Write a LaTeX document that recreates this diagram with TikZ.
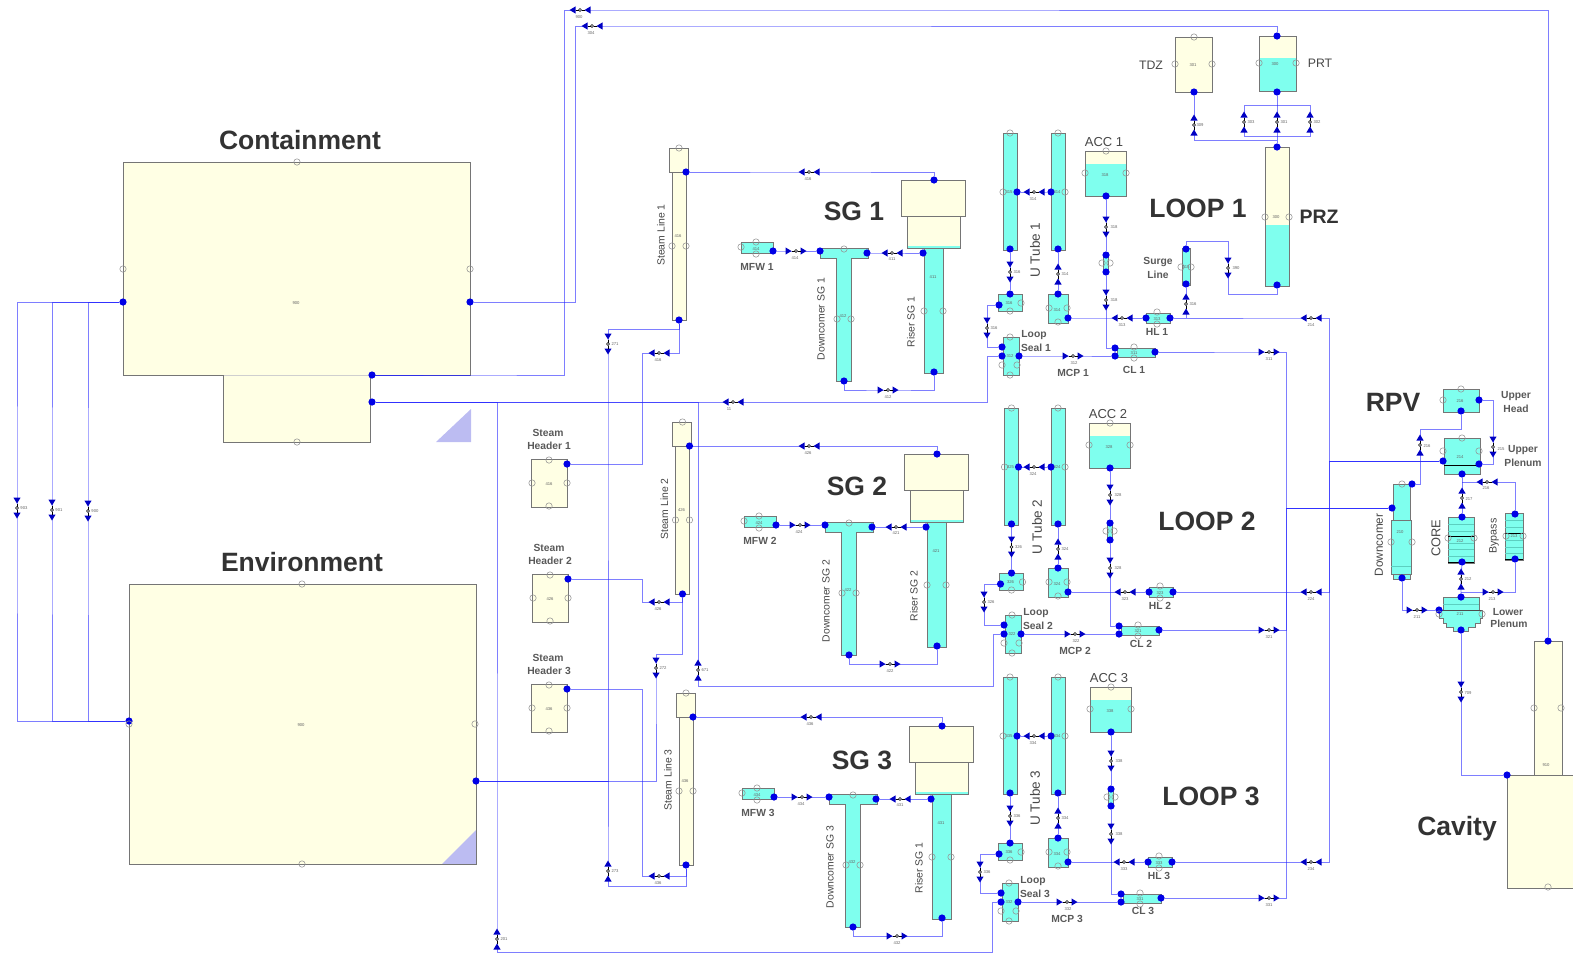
\documentclass[tikz,border=0pt]{standalone}
\usepackage{fontspec}
\setmainfont{Liberation Sans}
\pgfdeclarelayer{tanks}\pgfdeclarelayer{pipes}
\pgfsetlayers{tanks,pipes,main}
\definecolor{water}{HTML}{7FFFEE}
\definecolor{cream}{HTML}{FFFFE4}
\definecolor{edge}{HTML}{757575}
\definecolor{pipeblue}{HTML}{2020FF}
\definecolor{jblue}{HTML}{0000E6}
\definecolor{wedge}{HTML}{BCBCF2}
\definecolor{tube}{HTML}{5CCFC0}
\tikzset{
 tank/.style={draw=edge,line width=1pt},
 pipe/.style={draw=pipeblue,draw opacity=.58,line width=.85pt},
 jdot/.style={circle,fill=jblue,inner sep=0pt,minimum size=7.2pt},
 port/.style={draw=black!42,line width=.55pt},
 vtri/.style={fill=jblue!85!black},
 tinylab/.style={font=\fontsize{4.2}{5}\selectfont,text=black!60,inner sep=0pt},
 head/.style={font=\fontsize{26.5}{30}\bfseries\selectfont,text=black!80,inner sep=0pt},
 sub/.style={font=\fontsize{10.3}{12}\bfseries\selectfont,text=black!65,inner sep=0pt},
 rtxt/.style={font=\fontsize{10.4}{12}\selectfont,text=black!72,inner sep=0pt,rotate=90},
 reg/.style={font=\fontsize{12.3}{14}\selectfont,text=black!72,inner sep=0pt},
}
\newcount\txn
\newcommand\tx[4]{\global\advance\txn by 1 \node[#1] (tx\the\txn) at (#2,#3) {#4};}
\newcommand\lab[3]{\tx{tinylab}{#1}{#2}{#3}}
\newcommand\jn[3]{\node[jdot] (#1) at (#2,#3) {};}
\newcommand\prt[2]{\draw[port] (#1,#2) circle[radius=3.2pt];}
\newcommand\tank[5]{\begin{pgfonlayer}{tanks}\draw[tank,fill=#1] (#2,#3) rectangle (#4,#5);\end{pgfonlayer}}
\newcommand\wtank[5]{\begin{pgfonlayer}{tanks}\fill[cream] (#1,#2) rectangle (#3,#4);\fill[water] (#1,#5) rectangle (#3,#4);\draw[tank] (#1,#2) rectangle (#3,#4);\end{pgfonlayer}}
\newcommand\valve[7]{%
 \coordinate (#1) at (#2,#3);
 \begin{scope}[shift={(#2,#3)}]
 \begin{scope}[rotate=#4]
 \fill[vtri] (-10.5,-3.6)--(-10.5,3.6)--(-4.5,0)--cycle;
 \fill[vtri] (4.5,-3.6)--(4.5,3.6)--(10.5,0)--cycle;
 \draw[black,line width=.9pt] (-4.5,0)--(-1.5,0) (1.5,0)--(4.5,0);
 \draw[black,fill=white,line width=.6pt] (0,0) circle[radius=1.5pt];
 \end{scope}
 \lab{#6}{#7}{#5}
 \end{scope}}
\newcommand\pipes[1]{\begin{pgfonlayer}{pipes}#1\end{pgfonlayer}}
% steam generator: n, riser dx, downcomer dx, mfw dx, dy, three valve x, riser text
\newcommand\mkSG[9]{%
 \begin{scope}[shift={(#2,#5)}]
 \tank{cream}{901}{180}{965}{216}
 \wtank{907}{216}{960}{248}{246}
 \tank{water}{924}{248}{943}{373}
 \jn{SG#1t}{934}{180}\jn{SG#1r}{923}{253}\jn{SG#1b}{934}{372}
 \prt{924}{311}\prt{943}{311}\lab{933}{277}{4#11}
 \tx{rtxt}{911}{322}{#9}
 \end{scope}
 \begin{scope}[shift={(#3,#5)}]
 \begin{pgfonlayer}{tanks}\draw[tank,fill=water] (820,248)--(868,248)--(868,258)--(851,258)--(851,381)--(836,381)--(836,258)--(820,258)--cycle;\end{pgfonlayer}
 \jn{DC#1l}{820}{251}\jn{DC#1r}{867}{253}\jn{DC#1b}{844}{381}
 \prt{844}{249}\prt{837}{319}\prt{851}{319}\lab{843}{316}{4#12}
 \tx{rtxt}{821}{\dcty}{Downcomer SG #1}
 \end{scope}
 \begin{scope}[shift={(#4,#5)}]
 \tank{water}{741}{242}{773}{253}
 \jn{MF#1}{773}{251}
 \prt{741}{247}\prt{756}{242}\prt{756}{254}\lab{756}{249}{4#14}
 \tx{sub}{757}{267}{MFW #1}
 \end{scope}
 \begin{scope}[shift={(0,#5)}]
 \valve{V#1a}{#6}{251}{0}{4#14}{-1}{7}
 \valve{V#1b}{#7}{253}{180}{4#11}{0}{6.5}
 \valve{V#1c}{#8}{390}{0}{4#12}{0}{7}
 \end{scope}
 \pipes{\draw[pipe] (MF#1)--(V#1a)--(DC#1l);
 \draw[pipe] (DC#1r)--(V#1b)--(SG#1r);
 \draw[pipe] (DC#1b)|-(V#1c)--(V#1c-|SG#1b)--(SG#1b);}
}
\newcommand\mkSL[3]{%
 \begin{scope}[shift={(#2,#3)}]
 \tank{cream}{669}{148}{688}{172}
 \tank{cream}{672}{172}{686}{320}
 \jn{SL#1t}{686}{172}\jn{SL#1b}{679}{320}
 \prt{679}{148}\prt{672}{246}\prt{686}{246}\lab{678}{236}{4#16}
 \tx{rtxt}{661}{235}{Steam Line #1}
 \end{scope}}
\newcommand\mkSH[3]{%
 \begin{scope}[shift={(#2,#3)}]
 \tank{cream}{531}{459}{567}{507}
 \jn{H#1}{567}{464}
 \prt{549}{460}\prt{532}{483}\prt{567}{483}\prt{549}{506}\lab{549}{484}{4#16}
 \tx{sub}{548}{433}{Steam}\tx{sub}{549}{446}{Header #1}
 \end{scope}}
% U tube: n, left dx, dy
\newcommand\mkUT[3]{%
 \begin{scope}[shift={(#2,#3)}]
 \tank{water}{1003}{133}{1017}{250}
 \jn{UL#1m}{1017}{192}\jn{UL#1b}{1010}{249}
 \prt{1010}{133}\prt{1003}{192}\lab{1009}{192}{3#15}
 \valve{V#1l}{1010}{272}{-90}{3#16}{7}{0}
 \end{scope}
 \begin{scope}[shift={(0,#3)}]
 \tank{water}{1051}{133}{1065}{250}
 \jn{UR#1m}{1051}{192}\jn{UR#1b}{1058}{249}
 \prt{1058}{133}\prt{1065}{192}\lab{1057}{192}{3#14}
 \valve{V#1u}{1034}{192}{180}{3#14}{-1}{7}
 \valve{V#1r}{1058}{274}{90}{3#14}{7}{0}
 \end{scope}
 \pipes{\draw[pipe] (UR#1m)--(V#1u)--(UL#1m);}
}
\newcommand\mkSB[3]{%
 \begin{scope}[shift={(#2,#3)}]
 \tank{water}{998}{294}{1022}{311}
 \jn{SB#1t}{1010}{294}\jn{SB#1l}{999}{305}
 \prt{1021}{303}\prt{1010}{311}\lab{1009}{303}{3#16}
 \end{scope}}
\newcommand\mkRB[2]{%
 \begin{scope}[shift={(0,#2)}]
 \tank{water}{1048}{294}{1068}{323}
 \jn{RB#1t}{1058}{294}\jn{RB#1r}{1068}{318}
 \prt{1049}{308}\prt{1067}{308}\prt{1058}{322}\lab{1057}{310}{3#14}
 \end{scope}}
\newcommand\mkLS[3]{%
 \begin{scope}[shift={(#2,#3)}]
 \tank{water}{1003}{337}{1019}{375}
 \jn{LS#1a}{1002}{347}\jn{LS#1b}{1002}{356}\jn{LS#1c}{1019}{356}
 \prt{1010}{337}\prt{1002}{365}\prt{1017}{365}\prt{1010}{375}\lab{1010}{356}{3#12}
 \tx{sub}{1034}{335}{Loop}\tx{sub}{1036}{348}{Seal #1}
 \end{scope}}
\newcommand\mkCL[6]{%
 \begin{scope}[shift={(#2,#3)}]
 \tank{water}{1117}{348}{1155}{357}
 \jn{CL#1a}{1115}{348}\jn{CL#1b}{1115}{356}\jn{CL#1c}{1155}{352}
 \prt{1134}{347}\prt{1134}{358}\lab{1134}{353}{3#11}
 \end{scope}
 \begin{scope}[shift={(0,#3)}]
 \valve{V#1m}{#4}{356}{0}{3#12}{1}{7}
 \tx{sub}{#4}{373}{MCP #1}
 \valve{V#1o}{1269}{352}{0}{3#11}{0}{7}
 \end{scope}
 \tx{sub}{#5}{#6}{CL #1}}
\newcommand\mkHL[3]{%
 \begin{scope}[shift={(#2,#3)}]
 \tank{water}{1146}{313}{1170}{323}
 \jn{HL#1a}{1146}{318}\jn{HL#1c}{1170}{318}
 \prt{1157}{312}\prt{1157}{324}\lab{1157}{319}{3#13}
 \tx{sub}{1157}{332}{HL #1}
 \valve{V#1h}{1122}{318}{180}{3#13}{0}{7}
 \end{scope}
 \begin{scope}[shift={(0,#3)}]
 \valve{V#1k}{1311}{318}{180}{2#14}{0}{7}
 \end{scope}}
% accumulator: n, dx, tank dy, valves dy
\newcommand\mkACC[4]{%
 \begin{scope}[shift={(#2,#3)}]
 \wtank{1085}{151}{1126}{196}{164}
 \jn{AC#1b}{1106}{196}
 \prt{1106}{151}\prt{1085}{173}\prt{1126}{173}\lab{1105}{175}{3#18}
 \tx{reg,font=\fontsize{13}{15}\selectfont}{1104}{142}{ACC #1}
 \end{scope}
 \begin{scope}[shift={(#2,#4)}]
 \tank{water}{1103}{255}{1108}{272}
 \jn{AS#1a}{1106}{255}\jn{AS#1b}{1106}{272}
 \prt{1102}{263}\prt{1110}{263}
 \valve{V#1p}{1106}{227}{-90}{3#18}{8}{0}
 \valve{V#1q}{1106}{300}{-90}{3#18}{8}{0}
 \end{scope}
 \pipes{\draw[pipe] (AC#1b)--(V#1p)--(AS#1a);
 \draw[pipe] (AS#1b)--(V#1q)|-(CL#1a);}
}
% loop pipes: n, side x, side valve y
\newcommand\mkLP[3]{%
 \valve{V#1s}{#2}{#3}{-90}{3#16}{7}{0}
 \pipes{\draw[pipe] (SB#1l)-|(V#1s)|-(LS#1a);
 \draw[pipe] (UL#1b)--(V#1l)--(SB#1t);
 \draw[pipe] (RB#1t)--(V#1r)--(UR#1b);
 \draw[pipe] (RB#1r)--(V#1h)--(HL#1a);
 \draw[pipe] (HL#1c)--(V#1k)--(V#1k-|kU)--(kU)--(UPl);
 \draw[pipe] (LS#1c)--(V#1m)--(CL#1b);
 \draw[pipe] (CL#1c)--(V#1o)--(V#1o-|kD)--(kD)--(DCl);}
}
\begin{document}
\begin{tikzpicture}[x=1pt,y=-1pt]
\useasboundingbox (0,0) rectangle (1573,954);
% ===== containment and environment
\tank{cream}{123}{162}{470}{375}
\tank{cream}{223}{375}{370}{442}
\begin{pgfonlayer}{tanks}\draw[edge!35,line width=1pt] (224,375)--(369,375);\end{pgfonlayer}
\fill[wedge] (471,409)--(471,442)--(436,442)--cycle;
\jn{C0}{123}{302}\jn{C3}{470}{302}\jn{C1}{372}{375}\jn{C2}{372}{402}
\prt{297}{162}\prt{123}{269}\prt{470}{269}\prt{297}{442}\lab{296}{303}{900}
\tx{head}{300}{140}{Containment}
\tank{cream}{129}{584}{476}{864}
\fill[wedge] (476,830)--(476,864)--(442,864)--cycle;
\draw[edge,line width=1pt] (476,830)--(476,864)--(442,864);
\jn{E0}{129}{721}\jn{E1}{476}{781}
\prt{302}{584}\prt{475}{724}\prt{302}{864}\prt{129}{724}\lab{301}{725}{900}
\tx{head}{302}{562}{Environment}
% ===== SG units and steam lines
\def\dcty{319}
\mkSG{1}{0}{0}{0}{0}{796}{892}{888}{Riser SG 1}
\def\dcty{327}
\mkSG{2}{3}{5}{3}{274}{800}{896}{890}{Riser SG 2}
\def\dcty{321}
\mkSG{3}{8}{9}{1}{546}{802}{900}{897}{Riser SG 1}
\tx{head}{854}{211}{SG 1}\tx{head}{857}{486}{SG 2}\tx{head}{862}{760}{SG 3}
\mkSL{1}{0}{0}\mkSL{2}{3.5}{274}\mkSL{3}{7}{545}
\valve{Vst1}{809}{172}{180}{416}{-1}{7}
\valve{Vst2}{809}{446}{180}{426}{-1}{7}
\valve{Vst3}{811}{717}{180}{436}{-1}{7}
\pipes{\draw[pipe] (SL1t)--(Vst1)-|(SG1t);
\draw[pipe] (SL2t)--(Vst2)-|(SG2t);
\draw[pipe] (SL3t)--(Vst3)-|(SG3t);}
\mkSH{1}{0}{0}\mkSH{2}{1}{115}\mkSH{3}{0}{225}
% steam header and steam line links
\valve{Vh1}{659}{353}{180}{416}{-1}{7}
\valve{Vh2}{659}{602}{180}{426}{-1}{7}
\valve{Vh3}{659}{876}{180}{436}{-1}{7}
\valve{Vs1}{608}{344}{-90}{271}{7}{0}
\valve{Vs2}{656}{668}{-90}{272}{7}{0}
\valve{Vs3}{608}{871}{90}{273}{7}{0}
\coordinate (kA) at (642,353);\coordinate (kB) at (642,602);\coordinate (kC) at (642,876);
\coordinate (kE) at (608,781);\coordinate (kF) at (608,329);\coordinate (kG) at (656,781);
\coordinate (kH) at (656,654);\coordinate (kI) at (608,886);
\pipes{\draw[pipe] (H1)-|(kA)--(Vh1)-|(SL1b);
\draw[pipe] (H2)-|(kB)--(Vh2)-|(SL2b);
\draw[pipe] (H3)-|(kC)--(Vh3)-|(SL3b);
\draw[pipe] (E1)--(kE)--(Vs1)--(kF)-|(SL1b);
\draw[pipe] (E1)--(kE)--(kG)--(Vs2)--(kH)-|(SL2b);
\draw[pipe] (E1)--(kE)--(Vs3)--(kI)-|(SL3b);}
% ===== RPV
\tank{water}{1443}{389}{1479}{412}
\jn{UHr}{1479}{400}\jn{UHb}{1461}{411}
\prt{1461}{389}\prt{1443}{400}\lab{1460}{401}{216}
\tx{sub}{1516}{396}{Upper}\tx{sub}{1516}{409}{Head}
\tank{water}{1444}{438}{1480}{474}
\draw[black,line width=1pt] (1444,465)--(1480,465);
\jn{UPl}{1443}{461}\jn{UPr}{1479}{464}\jn{UPb}{1462}{474}
\prt{1462}{438}\prt{1443}{451}\prt{1479}{451}\lab{1460}{457}{214}
\tx{sub}{1523}{450}{Upper}\tx{sub}{1523}{463}{Plenum}
\tx{head}{1393}{402}{RPV}
\tank{water}{1393}{484}{1410}{522}
\tank{water}{1393}{570}{1410}{579}
\tank{water}{1391}{520}{1411}{574}
\draw[tube,line width=.6pt] (1391,566)--(1411,566);
\jn{DCt}{1412}{484}\jn{DCl}{1392}{508}\jn{DCb}{1402}{578}
\prt{1402}{484}\prt{1391}{542}\prt{1412}{542}\lab{1400}{532}{210}
\tx{rtxt,font=\fontsize{11.7}{13}\selectfont}{1379}{545}{Downcomer}
\tank{water}{1448}{517}{1474}{563}
\foreach \yy in {524,531,543,549,556}{\draw[tube,line width=.6pt] (1448,\yy)--(1474,\yy);}
\draw[black,line width=1pt] (1448,536)--(1474,536);
\draw[black,line width=1.4pt] (1448,562.5)--(1474,562.5);
\jn{COt}{1462}{517}\jn{COb}{1462}{562}
\prt{1448}{538}\prt{1474}{538}\lab{1460}{541}{212}
\tx{rtxt,font=\fontsize{12.8}{15}\selectfont}{1436}{538}{CORE}
\tank{water}{1505}{513}{1523}{560}
\foreach \yy in {520,527,540,547,553}{\draw[tube,line width=.6pt] (1505,\yy)--(1523,\yy);}
\draw[black,line width=1pt] (1505,533)--(1523,533);
\draw[black,line width=1.4pt] (1505,559.5)--(1523,559.5);
\jn{BYt}{1515}{514}\jn{BYb}{1515}{559}
\prt{1506}{536}\prt{1523}{536}\lab{1514}{536}{213}
\tx{rtxt,font=\fontsize{10.7}{13}\selectfont}{1494}{536}{Bypass}
\begin{pgfonlayer}{tanks}\draw[tank,fill=water] (1443,597)--(1479,597)--(1479,610)--(1482,610)--(1482,618)--(1480,618)--(1480,623)--(1475,623)--(1475,627)--(1468,627)--(1468,631)--(1453,631)--(1453,627)--(1446,627)--(1446,623)--(1443,623)--(1443,618)--(1439,618)--(1439,610)--(1443,610)--cycle;\end{pgfonlayer}
\draw[black!70,line width=.9pt] (1439,610)--(1482,610);
\draw[tube,line width=.6pt] (1443,604)--(1479,604);
\jn{LPt}{1461}{597}\jn{LPl}{1439}{610}\jn{LPb}{1461}{630}
\prt{1439}{614}\prt{1482}{614}\lab{1460}{614}{211}
\tx{sub}{1508}{612}{Lower}\tx{sub}{1509}{624}{Plenum}
\valve{Vr1}{1493}{447}{-90}{215}{8}{2}
\valve{Vr2}{1420}{445}{90}{216}{7}{1}
\valve{Vr3}{1417}{610}{0}{211}{0}{7}
\valve{Vr4}{1462}{498}{90}{217}{7}{1}
\valve{Vr5}{1487}{482}{180}{216}{-1}{6}
\valve{Vr6}{1461}{579}{90}{212}{7}{0}
\valve{Vr7}{1493}{592}{0}{213}{-1}{7}
\valve{Vr8}{1461}{692}{-90}{709}{7}{1}
% ===== cavity
\begin{pgfonlayer}{tanks}
\fill[cream] (1534,641) rectangle (1562,776);
\fill[cream] (1507,775) rectangle (1573,888);
\draw[tank] (1534,775)--(1534,641)--(1562,641)--(1562,775);
\draw[tank] (1573,775)--(1507,775)--(1507,888)--(1573,888);
\end{pgfonlayer}
\jn{Cv}{1548}{641}\jn{Cl}{1507}{775}
\prt{1534}{708}\prt{1561}{708}\prt{1548}{887}\lab{1546}{765}{910}
\tx{head}{1457}{829}{Cavity}
\coordinate (kJ) at (1493,400);\coordinate (kK) at (1493,464);
\coordinate (kL) at (1420,429);\coordinate (kM) at (1420,484);
\coordinate (kN) at (1462,482);\coordinate (kO) at (1515,482);
\coordinate (kP) at (1461,592);\coordinate (kQ) at (1515,592);
\coordinate (kR) at (1461,775);
\coordinate (kU) at (1329,461);\coordinate (kD) at (1286,508);
\pipes{\draw[pipe] (UHr)--(kJ)--(Vr1)--(kK)--(UPr);
\draw[pipe] (UHb)|-(kL)--(Vr2)--(kM)--(DCt);
\draw[pipe] (DCb)|-(Vr3)--(LPl);
\draw[pipe] (UPb)--(Vr4)--(COt);
\draw[pipe] (kN)--(Vr5)--(kO)--(BYt);
\draw[pipe] (COb)--(Vr6)--(LPt);
\draw[pipe] (kP)--(Vr7)--(kQ)--(BYb);
\draw[pipe] (LPb)--(Vr8)--(kR)--(Cl);}
% ===== loops
\mkUT{1}{0}{0}\mkUT{2}{1.5}{275}\mkUT{3}{0}{544}
\mkSB{1}{0}{0}\mkSB{2}{1.5}{279}\mkSB{3}{0}{549}
\mkRB{1}{0}\mkRB{2}{274}\mkRB{3}{544}
\mkLS{1}{0}{0}\mkLS{2}{2}{278}\mkLS{3}{-1}{546}
\mkCL{1}{0}{0}{1073}{1134}{370}\mkCL{2}{4}{278}{1075}{1141}{644}\mkCL{3}{6}{546}{1067}{1143}{911}
\mkHL{1}{0}{0}\mkHL{2}{3}{274}\mkHL{3}{2}{544}
\mkACC{1}{0}{0}{0}\mkACC{2}{4}{272}{268}\mkACC{3}{5}{536}{534}
\mkLP{1}{987}{328}\mkLP{2}{984}{602}\mkLP{3}{980}{872}
\tx{head}{1198}{208}{LOOP 1}\tx{head}{1207}{521}{LOOP 2}\tx{head}{1211}{796}{LOOP 3}
\tx{rtxt,font=\fontsize{13.5}{16}\selectfont}{1035}{250}{U Tube 1}
\tx{rtxt,font=\fontsize{13.5}{16}\selectfont}{1037}{527}{U Tube 2}
\tx{rtxt,font=\fontsize{13.5}{16}\selectfont}{1035}{798}{U Tube 3}
% ===== surge line, pressurizer, PRT, TDZ
\tank{water}{1182}{248}{1190}{285}
\jn{Sa}{1186}{249}\jn{Sb}{1186}{284}
\prt{1181}{267}\prt{1191}{267}\lab{1186}{267}{315}
\tx{sub}{1158}{262}{Surge}\tx{sub}{1158}{275}{Line}
\valve{Vsu}{1186}{304}{90}{316}{7}{0}
\valve{Vpz}{1228}{268}{-90}{390}{8}{0}
\wtank{1265}{147}{1289}{286}{225}
\jn{PZt}{1277}{147}\jn{PZb}{1277}{285}
\prt{1265}{217}\prt{1289}{217}\lab{1276}{217}{300}
\tx{head,font=\fontsize{19.5}{22}\bfseries\selectfont}{1319}{217}{PRZ}
\wtank{1259}{36}{1296}{91}{58}
\jn{PRt}{1277}{36}\jn{PRb}{1277}{92}
\prt{1259}{63}\prt{1296}{63}\lab{1275}{64}{300}
\tx{reg}{1320}{63}{PRT}
\tank{cream}{1175}{37}{1212}{92}
\jn{TDb}{1194}{92}
\prt{1194}{37}\prt{1175}{64}\prt{1212}{64}\lab{1193}{65}{301}
\tx{reg}{1151}{65}{TDZ}
\valve{Vt}{1194}{125}{90}{309}{6}{0}
\valve{Vm1}{1277}{122}{90}{301}{7}{0}
\valve{Vm2}{1310}{122}{90}{302}{7}{0}
\valve{Vm3}{1244}{122}{90}{303}{7}{0}
\coordinate (m1) at (1277,105);\coordinate (m2) at (1277,136);\coordinate (m3) at (1277,140);
\coordinate (m4) at (1186,318);\coordinate (m5) at (1186,241);\coordinate (m6) at (1228,241);\coordinate (m7) at (1228,294);
\pipes{\draw[pipe] (PRb)--(m1)--(Vm1)--(m2)--(PZt);
\draw[pipe] (m1)-|(Vm2)|-(m2);
\draw[pipe] (m1)-|(Vm3)|-(m2);
\draw[pipe] (TDb)--(Vt)|-(m3);
\draw[pipe] (Sb)--(Vsu)--(m4);
\draw[pipe] (Sa)--(m5)--(m6)--(Vpz)--(m7)-|(PZb);}
% ===== long connectors
\valve{Vtop}{580}{10}{180}{900}{-1}{7}
\valve{Vsec}{592}{26}{180}{304}{-1}{7}
\valve{Vy}{733}{402}{180}{11}{-4}{7}
\valve{Vx}{698}{670}{90}{671}{7}{0}
\valve{Vz}{497}{939}{90}{201}{7}{0}
\valve{VL1}{17}{508}{-90}{903}{7}{0}
\valve{VL2}{52}{510}{-90}{901}{7}{0}
\valve{VL3}{88}{511}{-90}{900}{7}{0}
\coordinate (n0) at (470,375);
\coordinate (n1) at (564,375);\coordinate (n2) at (564,10);
\coordinate (n3) at (575,302);\coordinate (n4) at (575,26);
\coordinate (n5) at (497,402);\coordinate (n6) at (987,402);
\coordinate (n7) at (698,402);\coordinate (n8) at (698,686);\coordinate (n9) at (993,686);
\coordinate (n10) at (497,952);\coordinate (n11) at (992,952);
\coordinate (a1) at (17,302);\coordinate (a2) at (17,721);
\coordinate (b1) at (52,302);\coordinate (b2) at (52,721);
\coordinate (c1) at (88,302);\coordinate (c2) at (88,721);
\pipes{\draw[pipe] (C1)--(n0)--(n1)--(n2)--(Vtop)-|(Cv);
\draw[pipe] (C1)--(n0);
\draw[pipe] (C3)--(n3)--(n4)--(Vsec)-|(PRt);
\draw[pipe] (C2)--(n5)--(n7)--(Vy)--(n6)|-(LS1b);
\draw[pipe] (C2)--(n7)--(Vx)--(n8)--(n9)|-(LS2b);
\draw[pipe] (C2)--(n5)--(Vz)--(n10)--(n11)|-(LS3b);
\draw[pipe] (C0)--(a1)--(VL1)--(a2)--(E0);
\draw[pipe] (C0)--(b1)--(VL2)--(b2)--(E0);
\draw[pipe] (C0)--(c1)--(VL3)--(c2)--(E0);}
\end{tikzpicture}
\end{document}
